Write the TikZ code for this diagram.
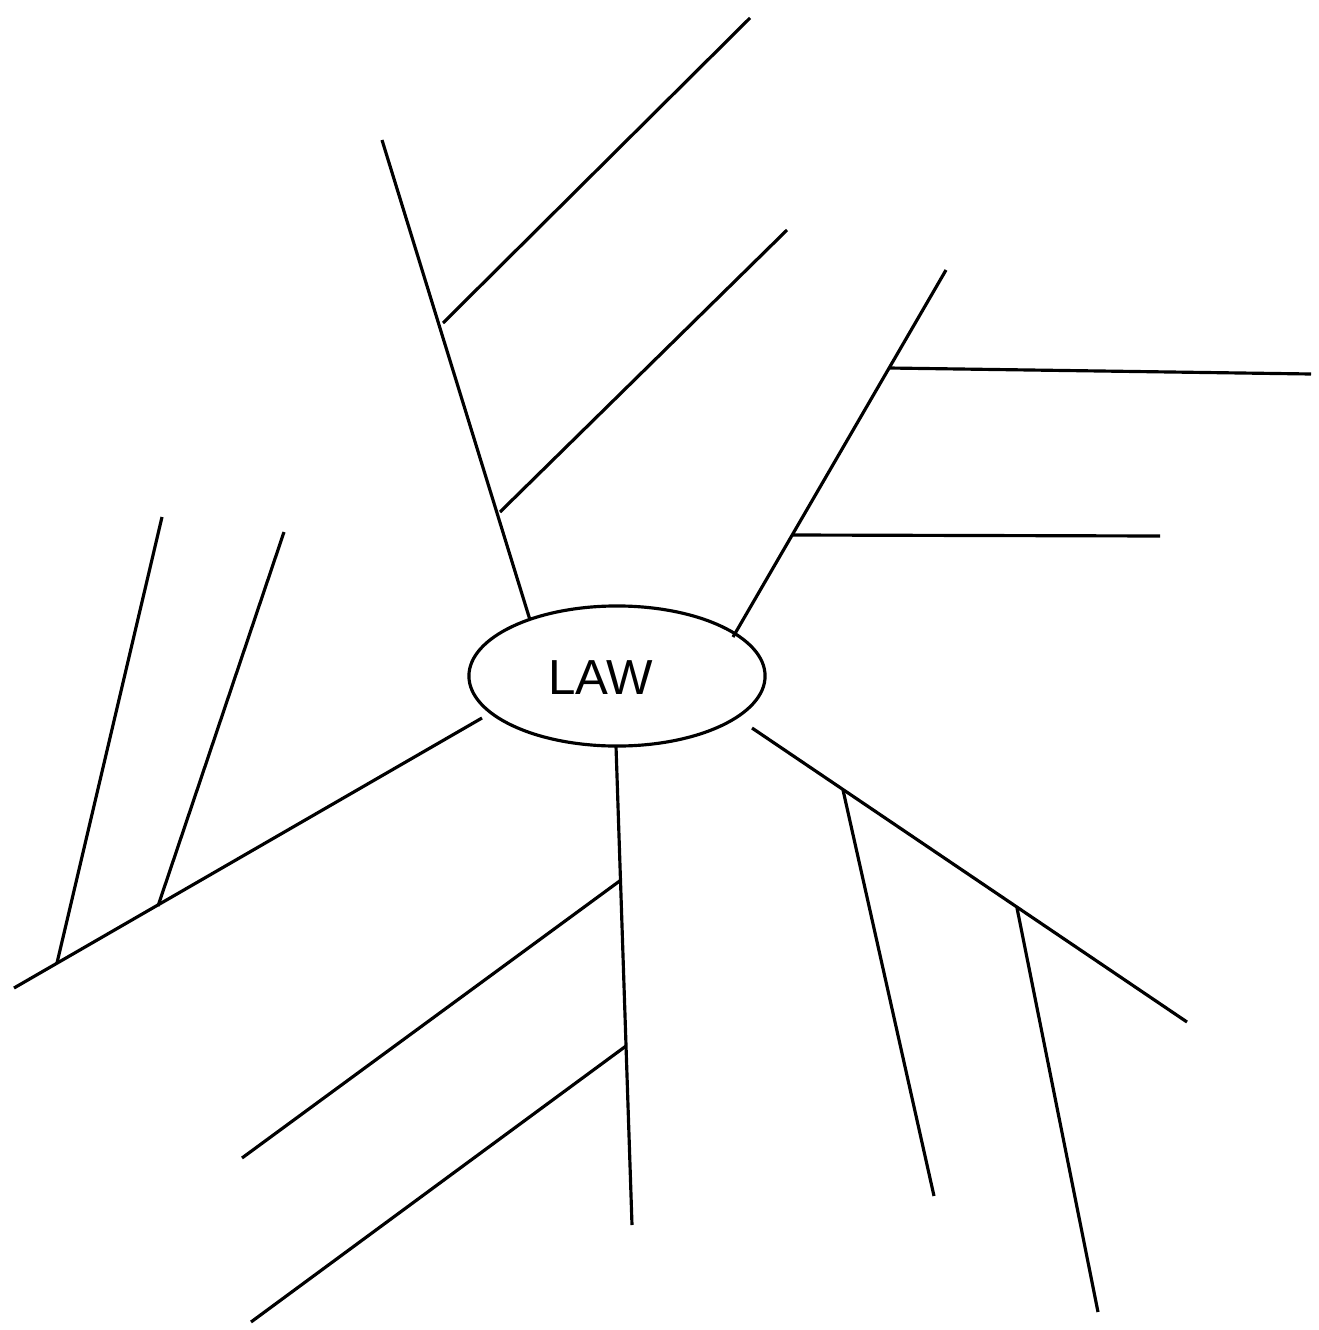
\documentclass[tikz,border=0pt]{standalone}
\usepackage{fontspec}
\setsansfont{Liberation Sans}
\usetikzlibrary{shapes.geometric}

\begin{document}
\begin{tikzpicture}[x=0.01cm,y=-0.01cm,line width=0.9pt,
		every node/.style={font=\sffamily\fontsize{14}{16}\selectfont}]
		\useasboundingbox (0,0) rectangle (1319,1330);
		
		\node[draw,ellipse,minimum width=2.96cm,minimum height=1.4cm,inner sep=0pt] (law) at (617,676) {};
		\node (lawtext) at (601,678) {LAW};
		
		% main branches
		\coordinate (s1) at (530,620);
		\coordinate (e1) at (382,140);
		\coordinate (s2) at (733,637);
		\coordinate (e2) at (946,270);
		\coordinate (s3) at (482,718);
		\coordinate (e3) at (14,988);
		\coordinate (s4) at (616,746);
		\coordinate (e4) at (632,1225);
		\coordinate (s5) at (752,728);
		\coordinate (e5) at (1187,1022);
		\foreach \i in {1,...,5}
			\draw (s\i)--(e\i);
		
		% side branches
		\coordinate (j1a) at (443,323);  \coordinate (f1a) at (750,18);
		\coordinate (j1b) at (500,512);  \coordinate (f1b) at (787,230);
		\coordinate (j2a) at (889,368);  \coordinate (f2a) at (1311,374);
		\coordinate (j2b) at (793,535);  \coordinate (f2b) at (1160,536);
		\coordinate (j3a) at (57,963);   \coordinate (f3a) at (162,517);
		\coordinate (j3b) at (158,906);  \coordinate (f3b) at (284,532);
		\coordinate (j4a) at (621,880);  \coordinate (f4a) at (242,1158);
		\coordinate (j4b) at (626,1046); \coordinate (f4b) at (251,1322);
		\coordinate (j5a) at (843,790);  \coordinate (f5a) at (934,1196);
		\coordinate (j5b) at (1017,908); \coordinate (f5b) at (1098,1312);
		\foreach \i in {1,...,5}
			\foreach \k in {a,b}
				\draw (j\i\k)--(f\i\k);
	\end{tikzpicture}
\end{document}
